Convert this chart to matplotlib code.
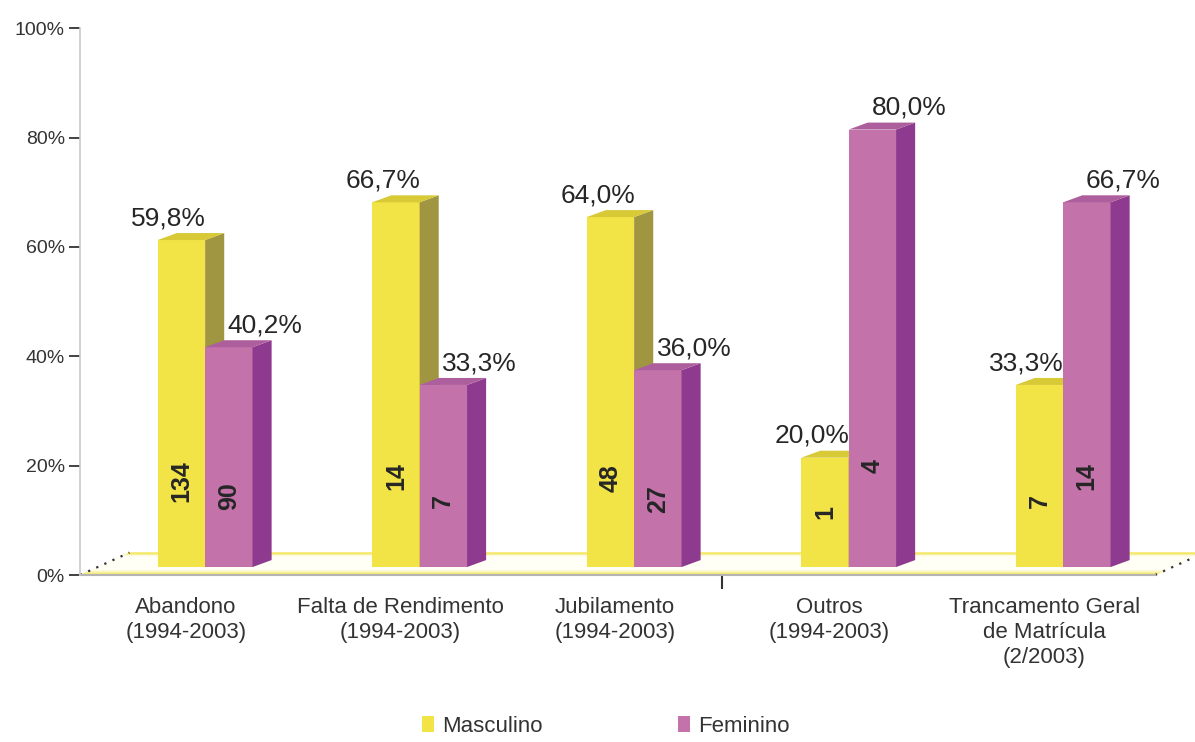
import numpy as np
import matplotlib
matplotlib.use("Agg")
import matplotlib.pyplot as plt
from matplotlib.patches import Polygon, Patch
from matplotlib.ticker import FuncFormatter

# data
categories = ["Abandono\n(1994-2003)", "Falta de Rendimento\n(1994-2003)",
              "Jubilamento\n(1994-2003)", "Outros\n(1994-2003)",
              "Trancamento Geral\nde Matrícula\n(2/2003)"]
masc_pct = [59.8, 66.7, 64.0, 20.0, 33.3]
fem_pct = [40.2, 33.3, 36.0, 80.0, 66.7]
masc_n = [134, 14, 48, 1, 7]
fem_n = [90, 7, 27, 4, 14]
series_names = ["Masculino", "Feminino"]

# colours: front, side, top
yellow = ("#f2e347", "#a09642", "#d8c937")
purple = ("#c472aa", "#8e3a8e", "#ad5e9c")

plt.rcParams.update({"font.family": ["Liberation Sans", "DejaVu Sans"]})

fig = plt.figure(figsize=(11.95, 7.42), dpi=100)
ax = fig.add_axes([0.067, 0.225, 0.8995, 0.737])
xmin, xmax = -0.494, 4.517
ax.set_xlim(xmin, xmax)
ax.set_ylim(0, 100)

# 3D look: depth offsets in data units
floor_dx, floor_dy = 0.23, 4.1
bar_x0, bar_y0 = 0.089, 1.46      # bars sit a bit behind the front edge
side_dx, side_dy = 0.089, 1.28
w = 0.221

# floor: parallelogram made of thin strips, yellow at the edges, white inside
yel = np.array([0.95, 0.89, 0.25])
wht = np.array([1.0, 1.0, 0.96])
n_strips = 40
for k in range(n_strips):
    t0, t1 = k / n_strips, (k + 1) / n_strips
    tm = (t0 + t1) / 2
    if tm < 0.25:
        m = 1 - tm / 0.25
    elif tm > 0.86:
        m = (tm - 0.86) / 0.14
    else:
        m = 0.0
    c = m * yel + (1 - m) * wht
    ax.add_patch(Polygon([[xmin + t0 * floor_dx, t0 * floor_dy],
                          [xmax + t0 * floor_dx, t0 * floor_dy],
                          [xmax + t1 * floor_dx, t1 * floor_dy],
                          [xmin + t1 * floor_dx, t1 * floor_dy]],
                         closed=True, facecolor=c, edgecolor=c, lw=0.3,
                         clip_on=False, zorder=1))
ax.plot([xmin, xmin + floor_dx], [0, floor_dy], ls=(0, (1, 3)), color="#333333",
        lw=1.6, clip_on=False, zorder=2)
ax.plot([xmax, xmax + floor_dx], [0, floor_dy], ls=(0, (1, 3)), color="#333333",
        lw=1.6, clip_on=False, zorder=2)


def draw_bar(x_left, value, cols, z):
    ax.bar(x_left, value, width=w, bottom=bar_y0, align="edge", color=cols[0],
           zorder=z, linewidth=0)
    top = bar_y0 + value
    xr = x_left + w
    ax.add_patch(Polygon([[xr, bar_y0], [xr + side_dx, bar_y0 + side_dy],
                          [xr + side_dx, top + side_dy], [xr, top]],
                         closed=True, facecolor=cols[1], edgecolor="none", zorder=z))
    ax.add_patch(Polygon([[x_left, top], [xr, top], [xr + side_dx, top + side_dy],
                          [x_left + side_dx, top + side_dy]],
                         closed=True, facecolor=cols[2], edgecolor="none", zorder=z))


def pct(v):
    return f"{v:.1f}%".replace(".", ",")


x = np.arange(len(categories))
for i in x:
    xm = i + bar_x0 - w
    xf = i + bar_x0
    draw_bar(xm, masc_pct[i], yellow, 3 + 2 * i)
    draw_bar(xf, fem_pct[i], purple, 4 + 2 * i)
    for xl, v, n, dx in ((xm, masc_pct[i], masc_n[i], -0.06), (xf, fem_pct[i], fem_n[i], 0.17)):
        cx = xl + w / 2
        ax.text(cx, 8.8 + 0.14 * v, str(n), rotation=90, ha="center", va="center",
                fontsize=18, fontweight="bold", color="#262626", zorder=20)
        ax.text(cx + dx, bar_y0 + v + 4.0, pct(v), ha="center", va="center",
                fontsize=19, color="#262626", zorder=20)

# axes styling
for s in ("top", "right"):
    ax.spines[s].set_visible(False)
ax.spines["left"].set_color("#c8c8c8")
ax.spines["bottom"].set_color("#b4b4b4")
ax.spines["left"].set_linewidth(1.2)
ax.spines["bottom"].set_linewidth(1.5)
ax.spines["bottom"].set_zorder(2)
ax.set_yticks(np.arange(0, 101, 20))
ax.yaxis.set_major_formatter(FuncFormatter(lambda v, p: f"{v:.0f}%"))
ax.tick_params(axis="y", length=8, width=1.3, color="#333333", labelsize=14,
               labelcolor="#333333", pad=3)
ax.set_xticks(x)
ax.set_xticklabels(categories, fontsize=16, color="#333333", linespacing=1.25)
ax.tick_params(axis="x", length=0, pad=16)
ax.set_xticks([2.5], minor=True)
ax.tick_params(axis="x", which="minor", length=10, width=1.5, color="#333333")

handles = [Patch(facecolor=yellow[0]), Patch(facecolor=purple[0])]
fig.legend(handles, series_names, loc="lower center", bbox_to_anchor=(0.507, -0.02),
           ncol=2, frameon=False, fontsize=16, handlelength=0.55, handleheight=0.75,
           handletextpad=0.36, columnspacing=6.1, labelcolor="#333333")

fig.savefig("out.png", dpi=100)
